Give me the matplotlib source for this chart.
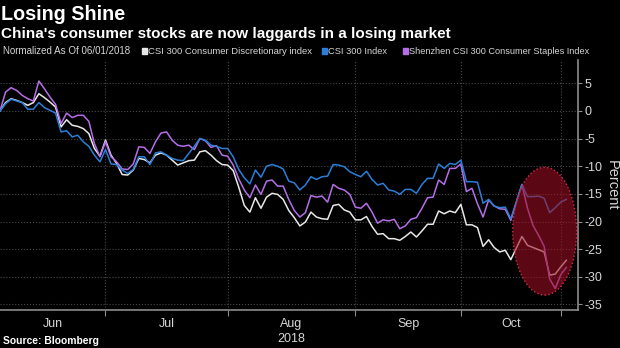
import numpy as np
import matplotlib
matplotlib.use("Agg")
from matplotlib import pyplot as plt
from matplotlib.patches import Ellipse

plt.rcParams['font.family'] = ['Liberation Sans', 'DejaVu Sans']

# cumulative % change since 06/01/2018, one value per trading day
csi300 = [0, 1.3, 2.1, 1.8, 1.5, 0.3, 0.3, 1.5, 0.6, 0.1,
          -0.4, -3.8, -3.6, -4.7, -4.4, -5.6, -6.4, -8.0, -9.2, -7.0,
          -9.6, -9.7, -10.7, -11.3, -10.6, -8.3, -8.3, -9.7, -7.6, -7.4,
          -8.0, -8.6, -8.9, -9.0, -7.7, -6.4, -5.0, -5.3, -6.2, -6.4,
          -6.8, -6.8, -8.3, -10.6, -12.1, -13.2, -10.7, -12.0, -10.0, -9.7,
          -10.0, -10.5, -12.7, -13.0, -14.3, -13.4, -11.9, -12.4, -11.9, -11.8,
          -9.7, -9.8, -10.1, -11.0, -11.5, -11.9, -10.9, -12.4, -13.4, -13.1,
          -14.3, -14.5, -15.1, -14.2, -14.2, -14.9, -13.3, -12.2, -12.2, -9.6,
          -10.4, -9.5, -9.7, -8.9, -12.8, -12.8, -12.9, -16.7, -16.0, -17.2,
          -17.5, -17.4, -19.5, -16.4, -13.3, -15.5, -15.5, -15.4, -15.8, -18.4,
          -17.5, -16.5, -16.0]

staples = [0, 3.4, 4.2, 3.7, 2.8, 2.2, 1.8, 5.4, 4.0, 2.5,
           1.2, -2.3, -0.4, -1.2, -0.8, -0.8, -1.9, -5.9, -8.3, -5.6,
           -8.3, -9.2, -10.5, -10.6, -9.6, -6.5, -6.6, -7.7, -5.6, -4.0,
           -3.8, -5.3, -6.2, -6.4, -6.2, -7.0, -5.0, -5.4, -6.6, -6.3,
           -8.0, -8.2, -9.8, -12.3, -14.3, -15.7, -13.4, -15.1, -12.7, -12.5,
           -13.6, -13.6, -16.0, -18.0, -19.2, -18.4, -15.3, -15.6, -15.4, -16.5,
           -13.3, -14.0, -14.3, -15.1, -17.4, -17.6, -16.7, -18.3, -20.3, -19.7,
           -19.9, -19.6, -21.3, -20.8, -19.6, -19.3, -17.6, -15.7, -15.6, -12.5,
           -13.3, -10.4, -10.4, -9.6, -14.6, -14.0, -16.8, -19.2, -16.1, -17.2,
           -17.7, -17.8, -19.8, -16.6, -13.3, -17.6, -20.7, -22.5, -24.5, -30.4,
           -32.1, -29.6, -28.3]

discretionary = [0, 1.5, 2.2, 1.9, 1.5, 1.0, 1.5, 3.1, 2.4, 1.6,
                 0.7, -2.9, -1.6, -2.6, -2.8, -3.2, -4.1, -6.8, -8.2, -5.3,
                 -8.0, -9.5, -11.5, -11.6, -10.7, -8.6, -8.8, -9.4, -8.0, -7.6,
                 -8.0, -8.9, -9.8, -9.4, -9.0, -8.9, -7.4, -7.2, -8.0, -9.0,
                 -9.7, -9.8, -10.8, -13.8, -17.1, -18.3, -15.7, -17.6, -15.6, -14.9,
                 -15.1, -16.0, -18.0, -19.3, -20.8, -20.1, -18.3, -19.2, -19.5, -19.6,
                 -17.1, -16.9, -17.9, -18.3, -19.7, -19.7, -19.1, -20.9, -22.3, -22.2,
                 -23.1, -23.1, -23.4, -22.7, -21.9, -22.8, -21.7, -20.5, -20.5, -18.1,
                 -18.6, -18.1, -18.4, -16.9, -20.6, -20.6, -21.1, -24.5, -23.3, -24.7,
                 -25.5, -25.2, -26.9, -24.8, -22.7, -24.3, -24.7, -25.1, -25.5, -29.7,
                 -29.5, -28.2, -27.0]

# month boundaries as trading-day index (last session of the previous month)
month_ends = [19, 41, 64, 83, 101]
month_labels = ["Jun", "Jul", "Aug\n2018", "Sep", "Oct"]
y_ticks = [5, 0, -5, -10, -15, -20, -25, -30, -35]

WHITE = "#e8e8e8"
BLUE = "#2a7fd8"
PURPLE = "#b56ee8"
GREY = "#8c8c8c"
TXT = "#d6d6d6"

W, H = 620, 348
days = np.arange(len(csi300))

fig = plt.figure(figsize=(W / 100, H / 100), dpi=100, facecolor="black")
ax = fig.add_axes([0.0, 1 - 310 / H, 578 / W, (310 - 60) / H])
ax.set_facecolor("black")
renderer = fig.canvas.get_renderer()


def put_text(x_px, y_px, s, width_px, **kw):
    """Place text at pixel position, sized so it spans width_px."""
    t = fig.text(x_px / W, 1 - y_px / H, s, va="center", ha="left", fontsize=10, **kw)
    w = t.get_window_extent(renderer).width
    t.set_fontsize(10 * width_px / w)
    return t


ax.plot(days, discretionary, color=WHITE, lw=1.1, zorder=3)
ax.plot(days, staples, color=PURPLE, lw=1.1, zorder=4)
ax.plot(days, csi300, color=BLUE, lw=1.1, zorder=5)

ax.add_patch(Ellipse((98.1, -21.75), 11.5, 23.1, facecolor=(0.62, 0.06, 0.14, 0.58),
                     edgecolor="#d42a48", lw=1.0, ls=":", zorder=6))

ax.set_xlim(0, 104.1)
ax.set_ylim(-36, 9.2)

ax.yaxis.tick_right()
ax.yaxis.set_label_position("right")
ax.set_yticks(y_ticks)
ax.set_yticklabels([str(v) for v in y_ticks])
ax.set_ylabel("Percent", color=TXT, fontsize=10.5, rotation=270, va="center",
              ha="center")
ax.yaxis.set_label_coords(612 / 578, 0.5)

ax.set_xticks(month_ends)
ax.set_xticklabels([])
mids = [(a + b) / 2 for a, b in zip([0] + month_ends[:-1], month_ends)]
ax.set_xticks(mids, minor=True)
ax.set_xticklabels(month_labels, minor=True)

ax.tick_params(axis="y", colors=GREY, labelcolor=TXT, labelsize=9, length=3, pad=1.5)
ax.tick_params(axis="x", which="major", colors=GREY, length=4)
ax.tick_params(axis="x", which="minor", length=0, labelcolor=TXT, labelsize=9,
               pad=6)
for lab in ax.get_xticklabels(minor=True):
    lab.set_linespacing(1.25)

ax.grid(True, which="major", color="#4a4a4a", ls=":", lw=0.8)
for side in ("top", "left"):
    ax.spines[side].set_visible(False)
for side in ("right", "bottom"):
    ax.spines[side].set_color(GREY)
    ax.spines[side].set_linewidth(1.2)

put_text(1, 14, "Losing Shine", 124, color="white", fontweight="bold")
put_text(1, 34, "China's consumer stocks are now laggards in a losing market", 447,
         color="white", fontweight="bold")

# legend row
ly = 51
put_text(3, ly, "Normalized As Of 06/01/2018", 128, color=TXT)
for x0, x1, col, label in [(142, 312, WHITE, "CSI 300 Consumer Discretionary index"),
                           (322, 387, BLUE, "CSI 300 Index"),
                           (403, 588, PURPLE, "Shenzhen CSI 300 Consumer Staples Index")]:
    fig.patches.append(plt.Rectangle((x0 / W, 1 - (ly + 3) / H), 5 / W, 6 / H,
                                     transform=fig.transFigure, color=col))
    put_text(x0 + 6, ly, label, x1 - x0 - 6, color=TXT)

put_text(3, 341, "Source: Bloomberg", 95, color="white", fontweight="bold")

fig.savefig("out.png", dpi=100, facecolor="black")
